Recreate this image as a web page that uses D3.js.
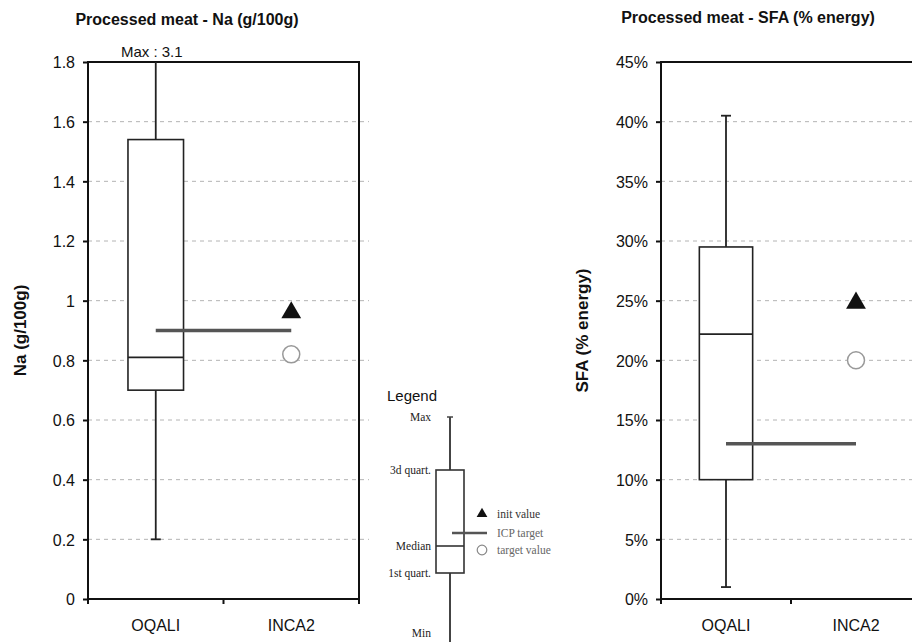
<!DOCTYPE html>
<html>
<head>
<meta charset="utf-8">
<title>Processed meat - Na and SFA</title>
<script src="https://d3js.org/d3.v7.min.js"></script>
<style>
  body { margin: 0; background: #fff; }
  svg { display: block; font-family: "Liberation Sans", Arial, sans-serif; }
  .grid { stroke: #b4b4b4; stroke-dasharray: 4,4; stroke-width: 1; }
  .tick-label { font-size: 16px; fill: #111; }
  .cat-label { font-size: 16px; fill: #111; }
  .title { font-size: 16px; font-weight: bold; fill: #111; }
  .ytitle { font-size: 17px; font-weight: bold; fill: #111; }
  .legend-txt { font-family: "Liberation Serif", "Times New Roman", serif; font-size: 11.5px; }
</style>
</head>
<body>
<div id="chart"></div>
<script>
// data
const categories = ["OQALI", "INCA2"];

// min, 1st quart., median, 3d quart., max
const naStats = [0.2, 0.70, 0.81, 1.54, 3.1];
const naIcpTarget = 0.9;
const naInitValue = 0.96;
const naTargetValue = 0.82;
const naTicks = [0, 0.2, 0.4, 0.6, 0.8, 1, 1.2, 1.4, 1.6, 1.8];

const sfaStats = [0.01, 0.10, 0.222, 0.295, 0.405];
const sfaIcpTarget = 0.13;
const sfaInitValue = 0.248;
const sfaTargetValue = 0.20;
const sfaTicks = [0, 0.05, 0.10, 0.15, 0.20, 0.25, 0.30, 0.35, 0.40, 0.45];

const legendLabels = ["Max", "3d quart.", "Median", "1st quart.", "Min"];
const legendKeys = ["init value", "ICP target", "target value"];

const width = 912, height = 642;
const svg = d3.select("#chart").append("svg")
  .attr("width", width).attr("height", height);

function panel(opts) {
  const { x0, x1, y0, y1, stats, icp, init, target, ticks, fmt, title, titleX, titleY, yLabel, yLabelX, maxLabel } = opts;
  const g = svg.append("g");
  const x = d3.scaleBand().domain(categories).range([x0, x1]);
  const y = d3.scaleLinear().domain([0, ticks[ticks.length - 1]]).range([y1, y0]);
  const bw = x.bandwidth() * 0.41;
  const cx = c => x(c) + x.bandwidth() / 2;

  // gridlines
  g.selectAll(".grid").data(ticks.slice(1, -1)).enter().append("line")
    .attr("class", "grid")
    .attr("x1", x0).attr("x2", x1 + 10)
    .attr("y1", d => y(d)).attr("y2", d => y(d));

  // y axis
  const yAxis = d3.axisLeft(y).tickValues(ticks).tickFormat(fmt).tickSize(5).tickSizeOuter(0).tickPadding(8);
  const ya = g.append("g").attr("transform", `translate(${x0},0)`).call(yAxis);
  ya.select(".domain").remove();
  ya.selectAll("line").attr("stroke", "#111").attr("stroke-width", 2);
  ya.selectAll("text").attr("class", "tick-label").attr("font-family", null).attr("font-size", null)
    .attr("dy", "0.36em");

  // frame
  g.append("rect").attr("x", x0).attr("y", y0).attr("width", x1 - x0).attr("height", y1 - y0)
    .attr("fill", "none").attr("stroke", "#111").attr("stroke-width", 2);

  // x ticks at band edges
  const edges = [x0, x0 + x.bandwidth(), x1];
  g.selectAll(".xt").data(edges).enter().append("line")
    .attr("x1", d => d).attr("x2", d => d).attr("y1", y1).attr("y2", y1 + 5)
    .attr("stroke", "#111").attr("stroke-width", 2);
  g.selectAll(".xl").data(categories).enter().append("text")
    .attr("class", "cat-label").attr("text-anchor", "middle")
    .attr("x", d => cx(d)).attr("y", y1 + 32).text(d => d);

  // box plot for OQALI
  const c = categories[0];
  const [mn, q1, md, q3, mx] = stats;
  const top = Math.min(mx, y.domain()[1]);
  g.append("line").attr("x1", cx(c)).attr("x2", cx(c)).attr("y1", y(q3)).attr("y2", y(top))
    .attr("stroke", "#222").attr("stroke-width", 1.8);
  g.append("line").attr("x1", cx(c)).attr("x2", cx(c)).attr("y1", y(q1)).attr("y2", y(mn))
    .attr("stroke", "#222").attr("stroke-width", 1.8);
  g.append("line").attr("x1", cx(c) - 5).attr("x2", cx(c) + 5).attr("y1", y(mn)).attr("y2", y(mn))
    .attr("stroke", "#222").attr("stroke-width", 1.8);
  if (mx <= y.domain()[1]) {
    g.append("line").attr("x1", cx(c) - 5).attr("x2", cx(c) + 5).attr("y1", y(mx)).attr("y2", y(mx))
      .attr("stroke", "#222").attr("stroke-width", 1.8);
  } else {
    g.append("text").attr("x", cx(c) - 4).attr("y", y0 - 5).attr("text-anchor", "middle")
      .attr("font-size", 15).attr("fill", "#111").text(maxLabel);
  }
  g.append("rect").attr("x", cx(c) - bw / 2).attr("y", y(q3)).attr("width", bw).attr("height", y(q1) - y(q3))
    .attr("fill", "#fff").attr("stroke", "#222").attr("stroke-width", 1.6);
  g.append("line").attr("x1", cx(c) - bw / 2).attr("x2", cx(c) + bw / 2).attr("y1", y(md)).attr("y2", y(md))
    .attr("stroke", "#222").attr("stroke-width", 1.6);

  // ICP target line
  const c2 = categories[1];
  g.append("line").attr("x1", cx(c)).attr("x2", cx(c2)).attr("y1", y(icp)).attr("y2", y(icp))
    .attr("stroke", "#555").attr("stroke-width", 3.5);

  // init value (triangle) and target value (circle)
  g.append("path").attr("d", d3.symbol(d3.symbolTriangle, 170)())
    .attr("transform", `translate(${cx(c2)},${y(init)})`).attr("fill", "#111");
  g.append("circle").attr("cx", cx(c2)).attr("cy", y(target)).attr("r", 8.5)
    .attr("fill", "#fff").attr("stroke", "#999").attr("stroke-width", 1.5);

  // titles
  svg.append("text").attr("class", "title").attr("text-anchor", "middle")
    .attr("x", titleX).attr("y", titleY).text(title);
  svg.append("text").attr("class", "ytitle").attr("text-anchor", "middle")
    .attr("transform", `translate(${yLabelX},${(y0 + y1) / 2}) rotate(-90)`).text(yLabel);
}

panel({
  x0: 88, x1: 359, y0: 62, y1: 599, stats: naStats, icp: naIcpTarget, init: naInitValue, target: naTargetValue,
  ticks: naTicks, fmt: d3.format("~g"), title: "Processed meat - Na (g/100g)", titleX: 187, titleY: 25,
  yLabel: "Na (g/100g)", yLabelX: 26, maxLabel: "Max : 3.1"
});
panel({
  x0: 661, x1: 921, y0: 62, y1: 599, stats: sfaStats, icp: sfaIcpTarget, init: sfaInitValue, target: sfaTargetValue,
  ticks: sfaTicks, fmt: d3.format(".0%"), title: "Processed meat - SFA (% energy)", titleX: 748, titleY: 23,
  yLabel: "SFA (%  energy)", yLabelX: 588
});

// legend
const lg = svg.append("g");
lg.append("text").attr("x", 387).attr("y", 401).attr("font-size", 15).attr("fill", "#111").text("Legend");
const legendY = [417, 470, 546, 573, 633];
const lx = 450, lbw = 28;
lg.append("line").attr("x1", lx).attr("x2", lx).attr("y1", legendY[0]).attr("y2", height)
  .attr("stroke", "#444").attr("stroke-width", 2);
lg.append("line").attr("x1", lx - 3).attr("x2", lx + 3).attr("y1", legendY[0]).attr("y2", legendY[0])
  .attr("stroke", "#444").attr("stroke-width", 1.5);
lg.append("rect").attr("x", lx - lbw / 2).attr("y", legendY[1]).attr("width", lbw).attr("height", legendY[3] - legendY[1])
  .attr("fill", "#fff").attr("stroke", "#333").attr("stroke-width", 1.6);
lg.append("line").attr("x1", lx - lbw / 2).attr("x2", lx + lbw / 2).attr("y1", legendY[2]).attr("y2", legendY[2])
  .attr("stroke", "#333").attr("stroke-width", 1.6);
lg.selectAll(".ll").data(legendLabels).enter().append("text")
  .attr("class", "legend-txt").attr("text-anchor", "end").attr("fill", "#222")
  .attr("x", 431).attr("y", (d, i) => legendY[i] + 4).text(d => d);

const keyY = [514, 533, 550];
lg.append("line").attr("x1", 452).attr("x2", 487).attr("y1", keyY[1]).attr("y2", keyY[1])
  .attr("stroke", "#555").attr("stroke-width", 2.5);
lg.append("path").attr("d", d3.symbol(d3.symbolTriangle, 50)())
  .attr("transform", `translate(482,${keyY[0]})`).attr("fill", "#111");
lg.append("circle").attr("cx", 482).attr("cy", keyY[2]).attr("r", 4.8)
  .attr("fill", "#fff").attr("stroke", "#888").attr("stroke-width", 1.2);
lg.selectAll(".lk").data(legendKeys).enter().append("text")
  .attr("class", "legend-txt").attr("fill", (d, i) => i === 0 ? "#333" : "#666")
  .attr("x", 497).attr("y", (d, i) => keyY[i] + 4).text(d => d);
</script>
</body>
</html>
